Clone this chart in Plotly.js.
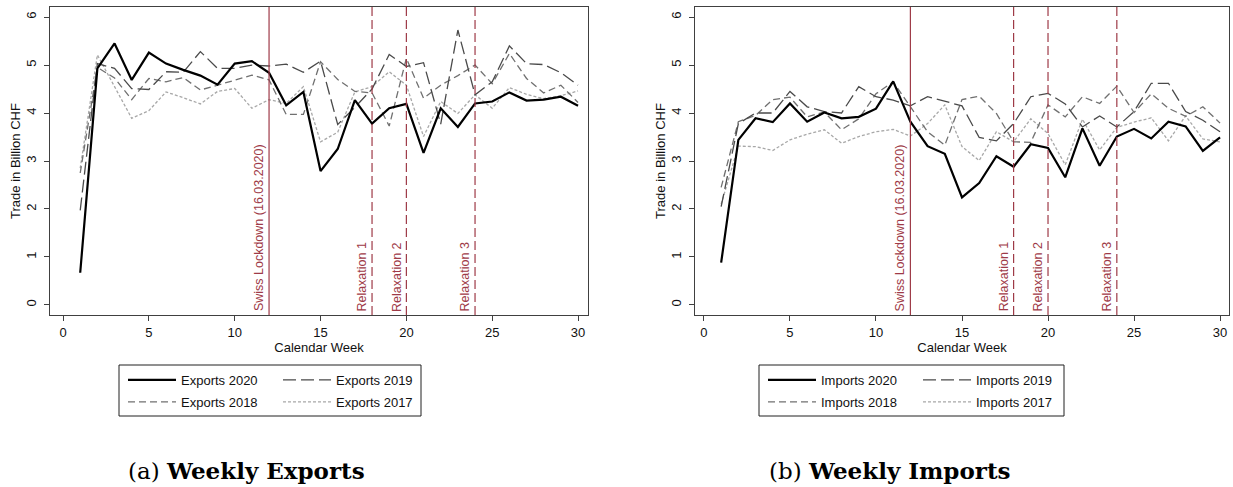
<!DOCTYPE html>
<html>
<head>
<meta charset="utf-8">
<script src="https://cdn.plot.ly/plotly-3.0.1.min.js"></script>
<style>html,body{margin:0;padding:0;background:#fff;}#chart{width:1233px;height:487px;}</style>
</head>
<body>
<div id="chart"></div>
<script>
// ---- data ----
var weeks = [1,2,3,4,5,6,7,8,9,10,11,12,13,14,15,16,17,18,19,20,21,22,23,24,25,26,27,28,29,30];

var exports2020 = [0.67,4.93,5.45,4.69,5.26,5.03,4.90,4.78,4.59,5.03,5.08,4.84,4.16,4.44,2.79,3.25,4.27,3.78,4.10,4.19,3.17,4.10,3.71,4.20,4.24,4.43,4.26,4.28,4.34,4.15];
var exports2019 = [1.97,5.03,4.93,4.51,4.49,4.86,4.85,5.28,4.93,4.93,5.00,4.98,5.02,4.85,5.08,3.76,4.12,4.50,5.22,4.97,5.05,3.77,5.73,4.38,4.65,5.40,5.03,5.01,4.84,4.58];
var exports2018 = [2.75,4.95,4.73,4.28,4.72,4.65,4.74,4.48,4.58,4.69,4.79,4.69,3.97,3.97,5.07,4.70,4.45,4.42,3.73,5.14,4.31,4.58,4.78,5.00,4.61,5.24,4.72,4.42,4.58,4.22];
var exports2017 = [2.85,5.21,4.55,3.89,4.05,4.44,4.32,4.19,4.45,4.51,4.10,4.28,4.20,4.55,3.40,3.60,4.44,4.55,4.86,4.58,3.51,4.24,3.99,4.38,4.10,4.53,4.39,4.30,4.36,4.46];

var imports2020 = [0.88,3.44,3.89,3.81,4.20,3.82,4.01,3.89,3.92,4.09,4.66,3.82,3.31,3.15,2.24,2.54,3.10,2.88,3.35,3.27,2.66,3.68,2.90,3.51,3.67,3.47,3.82,3.72,3.21,3.49];
var imports2019 = [2.05,3.78,4.00,4.00,4.45,4.13,4.03,4.00,4.55,4.34,4.27,4.15,4.34,4.24,4.15,3.49,3.42,3.78,4.34,4.41,4.19,3.71,3.94,3.71,4.03,4.62,4.62,4.03,3.85,3.61];
var imports2018 = [2.45,3.82,3.95,4.28,4.33,3.92,4.02,3.65,3.88,4.40,4.65,4.12,3.61,3.33,4.28,4.35,3.99,3.40,3.39,4.17,3.92,4.34,4.20,4.56,4.01,4.40,4.10,3.93,4.13,3.79];
var imports2017 = [2.10,3.31,3.30,3.22,3.44,3.56,3.65,3.37,3.51,3.61,3.66,3.52,3.78,4.17,3.30,3.01,3.61,3.40,3.88,3.57,2.92,3.87,3.23,3.70,3.81,3.90,3.42,3.94,3.46,3.40];

var eventWeeks  = [12, 18, 20, 24];
var eventLabels = ["Swiss Lockdown (16.03.2020)", "Relaxation 1", "Relaxation 2", "Relaxation 3"];

var xTicks = [0,5,10,15,20,25,30];
var yTicks = [0,1,2,3,4,5,6];

var xTitle = "Calendar Week";
var yTitle = "Trade in Billion CHF";
var captions = ["(a) <b>Weekly Exports</b>", "(b) <b>Weekly Imports</b>"];

// ---- styles ----
var FONT = "Liberation Sans, Arial, sans-serif";
var EVCOL = "#9e3a47";
var styles = {
  "2020": {color:"#000000", width:2.2, dash:"solid", rank:1},
  "2019": {color:"#4a4a4a", width:1.3, dash:"13px,5px", rank:2},
  "2018": {color:"#707070", width:1.3, dash:"7px,4px", rank:3},
  "2017": {color:"#a8a8a8", width:1.3, dash:"3px,2px", rank:4}
};

function mk(name, year, y, xa, ya, leg) {
  var s = styles[year];
  return {
    x: weeks, y: y, type: "scatter", mode: "lines", name: name,
    xaxis: xa, yaxis: ya, legend: leg, legendrank: s.rank,
    line: {color: s.color, width: s.width, dash: s.dash},
    hoverinfo: "skip"
  };
}

var data = [
  mk("Exports 2017","2017",exports2017,"x","y","legend2"),
  mk("Exports 2018","2018",exports2018,"x","y","legend2"),
  mk("Exports 2019","2019",exports2019,"x","y","legend"),
  mk("Exports 2020","2020",exports2020,"x","y","legend"),
  mk("Imports 2017","2017",imports2017,"x2","y2","legend4"),
  mk("Imports 2018","2018",imports2018,"x2","y2","legend4"),
  mk("Imports 2019","2019",imports2019,"x2","y2","legend3"),
  mk("Imports 2020","2020",imports2020,"x2","y2","legend3")
];

var W = 1233, H = 487;
function px(x){return x/W;}
function py(y){return 1 - y/H;}

function xax(dom, rng){
  return {domain: dom, range:rng, tickvals: xTicks, ticks:"outside", ticklen:5, tickwidth:1,
    tickcolor:"#404040", showline:true, mirror:true, linecolor:"#404040", linewidth:1,
    showgrid:false, zeroline:false, tickfont:{family:FONT,size:13,color:"#111"},
    title:{text:xTitle, font:{family:FONT,size:13,color:"#111"}, standoff:4}, fixedrange:true};
}
function yax(dom, anchor){
  return {domain: dom, range:[-0.21,6.21], tickvals: yTicks, ticks:"outside", ticklen:5, tickwidth:1,
    tickcolor:"#404040", showline:true, mirror:true, linecolor:"#404040", linewidth:1, tickangle:-90,
    ticklabelstandoff:3,
    showgrid:false, zeroline:false, tickfont:{family:FONT,size:13,color:"#111"}, anchor: anchor,
    title:{text:yTitle, font:{family:FONT,size:13,color:"#111"}, standoff:0}, fixedrange:true};
}

var shapes = [], annotations = [];
[["x","y"],["x2","y2"]].forEach(function(ax){
  eventWeeks.forEach(function(w,i){
    shapes.push({type:"line", xref:ax[0], yref:ax[1]+" domain", x0:w, x1:w, y0:0, y1:1,
      line:{color:EVCOL, width:1.2, dash: i===0 ? "solid" : "9px,4px"}});
    annotations.push({xref:ax[0], yref:ax[1], x:w, y:-0.18, xanchor:"center", yanchor:"bottom",
      xshift:-10, textangle:-90, showarrow:false, text:eventLabels[i],
      font:{family:FONT, size:12.5, color:EVCOL}});
  });
});

// legend frames
shapes.push({type:"rect", xref:"paper", yref:"paper", x0:px(119), x1:px(421), y0:py(416), y1:py(365),
  line:{color:"#202020", width:1}});
shapes.push({type:"rect", xref:"paper", yref:"paper", x0:px(759), x1:px(1064), y0:py(416), y1:py(365),
  line:{color:"#202020", width:1}});

annotations.push({xref:"paper", yref:"paper", x:px(247), y:py(470), xanchor:"center", yanchor:"middle",
  showarrow:false, text:captions[0], font:{family:"DejaVu Serif, serif", size:23, color:"#000"}});
annotations.push({xref:"paper", yref:"paper", x:px(889), y:py(470), xanchor:"center", yanchor:"middle",
  showarrow:false, text:captions[1], font:{family:"DejaVu Serif, serif", size:23, color:"#000"}});

function leg(x, y){
  return {x:px(x), y:py(y), xanchor:"left", yanchor:"middle", orientation:"h",
    bgcolor:"rgba(0,0,0,0)", borderwidth:0, font:{family:FONT,size:13,color:"#111"},
    entrywidth:92, entrywidthmode:"pixels", itemwidth:48, itemclick:false, itemdoubleclick:false,
    tracegroupgap:0};
}

var layout = {
  width: W, height: H, margin:{l:0,r:0,t:0,b:0},
  paper_bgcolor:"#fff", plot_bgcolor:"#fff", showlegend:true,
  xaxis: xax([px(50), px(588)], [-0.76, 30.58]),
  yaxis: yax([py(315), py(7)], "x"),
  xaxis2: xax([px(695), px(1229)], [-0.52, 30.52]),
  yaxis2: yax([py(315), py(7)], "x2"),
  legend: leg(123, 380),
  legend2: leg(123, 402),
  legend3: leg(763, 380),
  legend4: leg(763, 402),
  shapes: shapes, annotations: annotations
};
layout.xaxis2.anchor = "y2";
layout.xaxis.anchor = "y";

Plotly.newPlot("chart", data, layout, {displayModeBar:false, staticPlot:true});
</script>
</body>
</html>
